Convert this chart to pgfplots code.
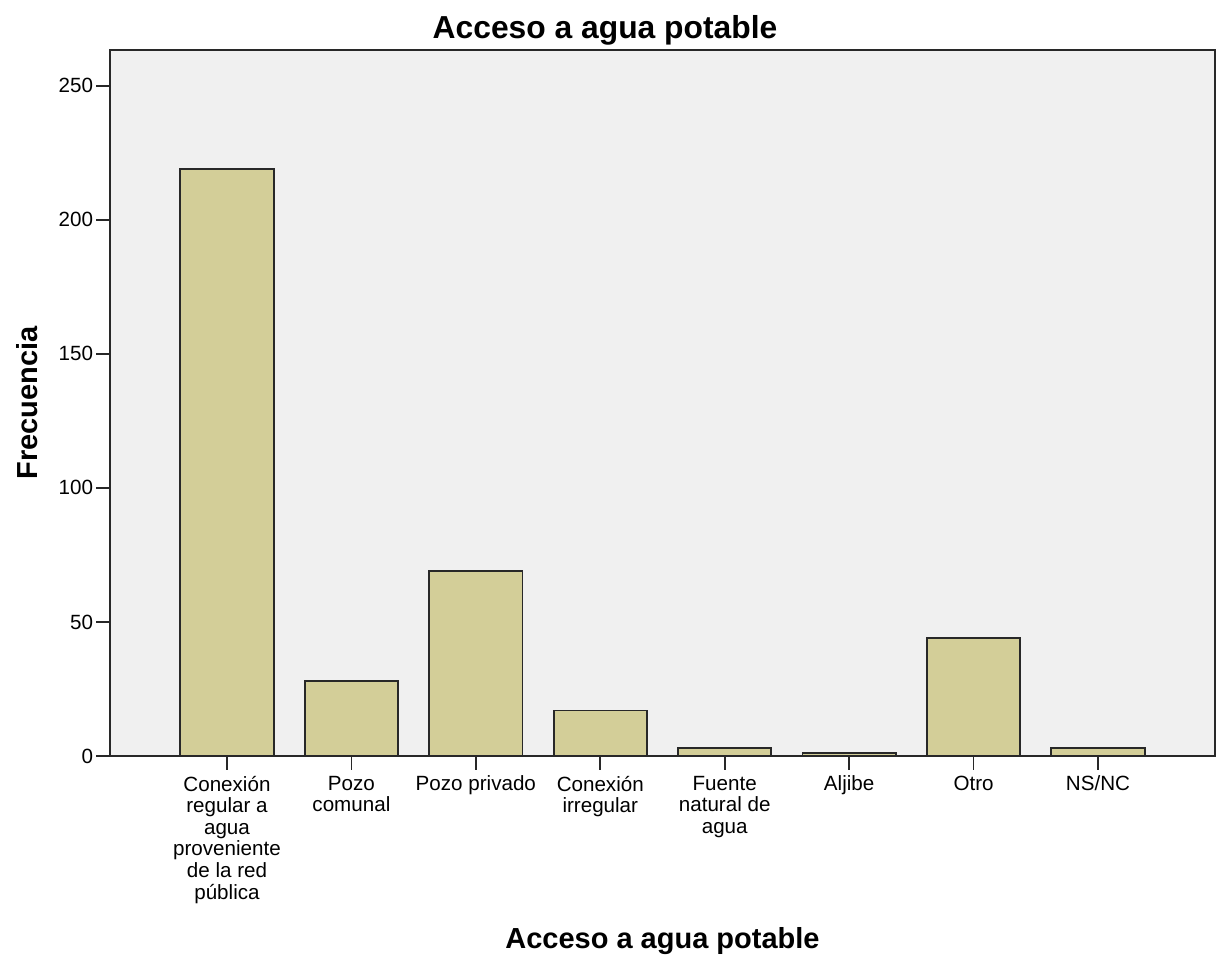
\documentclass[border=0pt]{standalone}
\usepackage{pgfplots}
\pgfplotsset{compat=1.18}
\usepackage{fontspec}
\setmainfont{Liberation Sans}
\definecolor{barfill}{RGB}{211,206,152}
\definecolor{bgc}{RGB}{240,240,240}
\definecolor{edge}{RGB}{40,40,40}
\begin{document}
\begin{tikzpicture}
\useasboundingbox (-55pt,-100pt) rectangle (554.5pt,378pt);
\begin{axis}[
  at={(0,0)}, anchor=south west,
  scale only axis,
  width=552.5pt, height=353pt,
  xmin=-0.94, xmax=7.94,
  ymin=0, ymax=263.3,
  ytick={0,50,100,150,200,250},
  xtick={0,1,2,3,4,5,6,7},
  xticklabels={{Conexión\\regular a\\agua\\proveniente\\de la red\\pública},{Pozo\\comunal},{Pozo privado},{Conexión\\irregular},{Fuente\\natural de\\agua},{Aljibe},{Otro},{NS/NC}},
  xticklabel style={align=center, font=\fontsize{10.3}{10.8}\selectfont, inner sep=1pt, yshift=-2pt},
  yticklabel style={font=\fontsize{10.3}{11}\selectfont, inner sep=1.5pt},
  /pgf/number format/assume math mode=true,
  tick align=outside,
  major tick length=6.8pt,
  tick style={edge, line width=0.9pt},
  axis line style={edge, line width=0.9pt},
  axis background/.style={fill=bgc},
  xtick pos=bottom, ytick pos=left,
  ylabel={\bfseries Frecuencia},
  ylabel style={font=\fontsize{14.5}{16}\selectfont, at={(rel axis cs:0,0.5)}, yshift=41.5pt, anchor=center},
  xlabel={\bfseries Acceso a agua potable},
  xlabel style={font=\fontsize{14.5}{16}\selectfont, at={(rel axis cs:0.5,0)}, yshift=-92.5pt, anchor=center},
  title={\bfseries Acceso a agua potable},
  title style={font=\fontsize{15.9}{17}\selectfont, at={(rel axis cs:0.448,1)}, yshift=4pt, anchor=center},
  clip=false,
]
\addplot[ybar, bar width=0.75, fill=barfill, draw=edge, line width=0.9pt] coordinates {
  (0,219) (1,28) (2,69) (3,17) (4,3) (5,1) (6,44) (7,3)
};
\end{axis}
\end{tikzpicture}
\end{document}
